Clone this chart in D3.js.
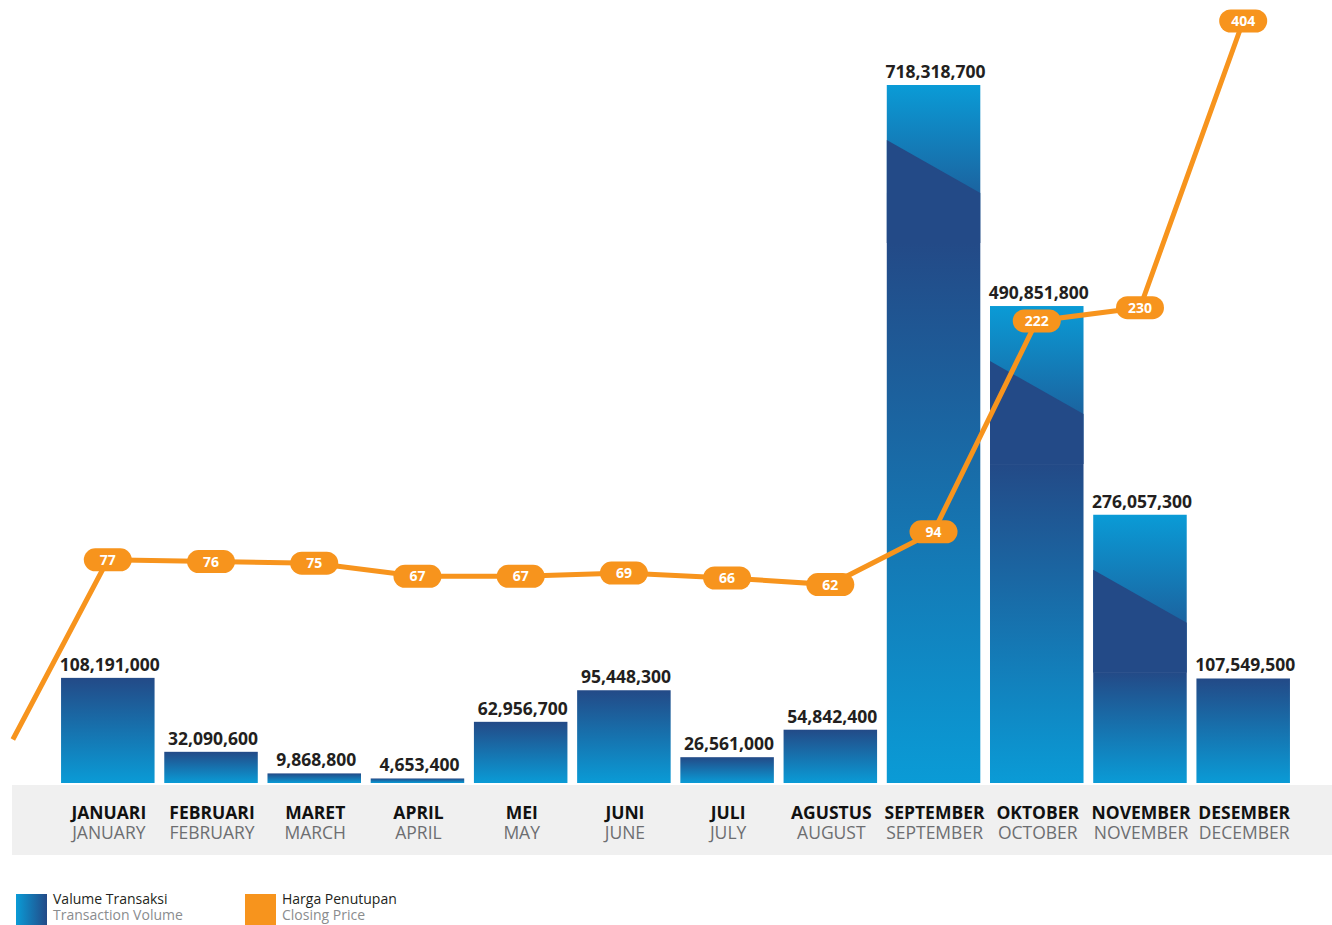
<!DOCTYPE html>
<html>
<head>
<meta charset="utf-8">
<script src="https://cdn.jsdelivr.net/npm/d3@7"></script>
<style>
  html, body { margin: 0; padding: 0; background: #fff; }
  svg { display: block; font-family: "Open Sans", "Noto Sans", sans-serif; }
</style>
</head>
<body>
<svg id="chart" width="1332" height="925"></svg>
<script>
const monthsId = ["JANUARI", "FEBRUARI", "MARET", "APRIL", "MEI", "JUNI", "JULI", "AGUSTUS", "SEPTEMBER", "OKTOBER", "NOVEMBER", "DESEMBER"];
const monthsEn = ["JANUARY", "FEBRUARY", "MARCH", "APRIL", "MAY", "JUNE", "JULY", "AUGUST", "SEPTEMBER", "OCTOBER", "NOVEMBER", "DECEMBER"];
const volume = [108191000, 32090600, 9868800, 4653400, 62956700, 95448300, 26561000, 54842400, 718318700, 490851800, 276057300, 107549500];
const closePrice = [77, 76, 75, 67, 67, 69, 66, 62, 94, 222, 230, 404];
// the line comes in from below the left edge (previous close, off the price scale)
const priceLeadIn = -32;

const svg = d3.select("#chart");
const blueDark = "#234a87", blueLight = "#0a9bd6", orange = "#f7941d";

const x = d3.scaleBand()
    .domain(monthsId)
    .range([56.2, 1294.8])
    .paddingInner(0.094)
    .paddingOuter(0.047);

const yVol = d3.scaleLinear().domain([0, 718318700]).range([783, 85]);
const yPrice = d3.scaleLinear().domain([66, 404]).range([578, 21]);

const defs = svg.append("defs");

function vGrad(id, top, bottom) {
    const g = defs.append("linearGradient").attr("id", id)
        .attr("x1", 0).attr("y1", 0).attr("x2", 0).attr("y2", 1);
    g.append("stop").attr("offset", "0%").attr("stop-color", top);
    g.append("stop").attr("offset", "100%").attr("stop-color", bottom);
}
vGrad("barGrad", blueDark, blueLight);
vGrad("capGrad", blueLight, blueDark);

const legendGrad = defs.append("linearGradient").attr("id", "legendGrad")
    .attr("x1", 0).attr("y1", 0).attr("x2", 1).attr("y2", 0);
legendGrad.append("stop").attr("offset", "0%").attr("stop-color", blueLight);
legendGrad.append("stop").attr("offset", "100%").attr("stop-color", blueDark);

// category band
svg.append("rect")
    .attr("x", 12).attr("y", 785)
    .attr("width", 1320).attr("height", 70)
    .attr("fill", "#f0f0f0");

const capH = 158;
const bars = svg.append("g").attr("class", "bars")
    .selectAll("g")
    .data(monthsId.map((m, i) => ({ month: m, value: volume[i] })))
    .enter().append("g");

bars.each(function(d) {
    const g = d3.select(this)
        , x0 = x(d.month)
        , w = x.bandwidth()
        , top = yVol(d.value)
        , h = yVol(0) - top;

    if (h > 200) {
        // tall bars: shaded cap with a diagonal fold, then the plain gradient below
        g.append("rect")
            .attr("x", x0).attr("y", top + capH)
            .attr("width", w).attr("height", h - capH)
            .attr("fill", "url(#barGrad)");
        g.append("rect")
            .attr("x", x0).attr("y", top)
            .attr("width", w).attr("height", capH)
            .attr("fill", "url(#capGrad)");
        g.append("path")
            .attr("d", "M" + x0 + "," + (top + 55) +
                       "L" + (x0 + w) + "," + (top + 108) +
                       "L" + (x0 + w) + "," + (top + capH) +
                       "L" + x0 + "," + (top + capH) + "Z")
            .attr("fill", blueDark);
    } else {
        g.append("rect")
            .attr("x", x0).attr("y", top)
            .attr("width", w).attr("height", h)
            .attr("fill", "url(#barGrad)");
    }

    g.append("text")
        .attr("x", x0 + w / 2 + 2)
        .attr("y", top - 7)
        .attr("text-anchor", "middle")
        .attr("font-size", 17.5)
        .attr("font-weight", 700)
        .attr("fill", "#231f20")
        .text(d3.format(",")(d.value));
});

// month labels
const labels = svg.append("g").attr("class", "months")
    .selectAll("g")
    .data(monthsId)
    .enter().append("g")
    .attr("transform", (d) => "translate(" + (x(d) + x.bandwidth() / 2 + 1) + ",0)");

labels.append("text")
    .attr("y", 819)
    .attr("text-anchor", "middle")
    .attr("font-size", 17.5)
    .attr("font-weight", 700)
    .attr("fill", "#111")
    .text((d) => d);

labels.append("text")
    .attr("y", 839)
    .attr("text-anchor", "middle")
    .attr("font-size", 17.5)
    .attr("fill", "#6d6e71")
    .text((d, i) => monthsEn[i]);

// closing price line
const pts = monthsId.map((m, i) => [x(m) + x.bandwidth() / 2, yPrice(closePrice[i]), closePrice[i]]);
const leadX = x(monthsId[0]) + x.bandwidth() / 2 - x.step() * 0.92;

svg.append("path")
    .attr("d", d3.line()([[leadX, yPrice(priceLeadIn)]].concat(pts.map((p) => [p[0], p[1]]))))
    .attr("fill", "none")
    .attr("stroke", orange)
    .attr("stroke-width", 5);

const pills = svg.append("g").attr("class", "pills")
    .selectAll("g")
    .data(pts)
    .enter().append("g")
    .attr("transform", (d) => "translate(" + d[0] + "," + d[1] + ")");

pills.append("rect")
    .attr("x", -24).attr("y", -11.5)
    .attr("width", 48).attr("height", 23)
    .attr("rx", 11.5)
    .attr("fill", orange);

pills.append("text")
    .attr("y", 5)
    .attr("text-anchor", "middle")
    .attr("font-size", 14)
    .attr("font-weight", 700)
    .attr("fill", "#fff")
    .text((d) => d[2]);

// legend
const legend = svg.append("g").attr("class", "legend");
const legendItems = [
    { x: 16, fill: "url(#legendGrad)", id: "Valume Transaksi", en: "Transaction Volume" },
    { x: 245, fill: orange, id: "Harga Penutupan", en: "Closing Price" }
];
legendItems.forEach(function(item) {
    legend.append("rect")
        .attr("x", item.x).attr("y", 894)
        .attr("width", 31).attr("height", 31)
        .attr("fill", item.fill);
    legend.append("text")
        .attr("x", item.x + 37).attr("y", 904)
        .attr("font-size", 14)
        .attr("fill", "#231f20")
        .text(item.id);
    legend.append("text")
        .attr("x", item.x + 37).attr("y", 920)
        .attr("font-size", 14)
        .attr("fill", "#8a8c8e")
        .text(item.en);
});
</script>
</body>
</html>
